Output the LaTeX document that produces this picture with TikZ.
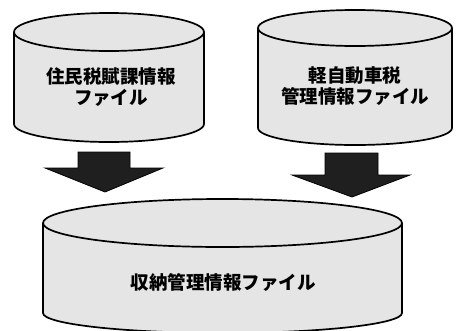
\documentclass[tikz,border=0pt]{standalone}
\usepackage{fontspec}
\newfontfamily\jp{Noto Sans CJK JP}
\tikzset{
  cylfill/.style={fill=black!10},
  cylline/.style={draw=black, line width=1.7pt, line join=round},
  blockarrow/.style={fill=black!88, draw=black, line width=0.8pt, line join=miter},
  lbl/.style={font=\jp\bfseries\fontsize{18.5}{21.5}\selectfont, align=center, text=black}
}
\begin{document}
\begin{tikzpicture}[x=1pt,y=-1pt]
\useasboundingbox (0,0) rectangle (461,330);
\clip (0,0) rectangle (461,330);
% left cylinder: x 14..204
\path[cylfill] (14,32) -- (14,124) arc (180:0:95 and 18) -- (204,32) arc (0:-180:95 and 19) -- cycle;
\draw[cylline] (14,32) -- (14,124) arc (180:0:95 and 18) -- (204,32);
\draw[cylline] (109,32) ellipse (95 and 19);
% right cylinder: x 258..452
\path[cylfill] (258,28) -- (258,128) arc (180:0:97 and 17) -- (452,28) arc (0:-180:97 and 18) -- cycle;
\draw[cylline] (258,28) -- (258,128) arc (180:0:97 and 17) -- (452,28);
\draw[cylline] (355,28) ellipse (97 and 18);
% bottom cylinder: x 43..402
\path[cylfill] (43,223) -- (43,313) arc (180:0:179.5 and 20) -- (402,223) arc (0:-180:179.5 and 24) -- cycle;
\draw[cylline] (43,223) -- (43,313) arc (180:0:179.5 and 20) -- (402,223);
\draw[cylline] (222.5,223) ellipse (179.5 and 24);
% labels
\node[lbl] (a) at (111,87) {住民税賦課情報\\ファイル};
\node[lbl] (b) at (355,86) {軽自動車税\\管理情報ファイル};
\node[lbl] (c) at (223,282) {収納管理情報ファイル};
% block arrows
\path[blockarrow] (78,152) -- (130,152) -- (130,168) -- (163,168) -- (105,192) -- (45,168) -- (78,168) -- cycle;
\path[blockarrow] (325,153) -- (378,153) -- (378,175) -- (410,175) -- (352,197) -- (292,175) -- (325,175) -- cycle;
\end{tikzpicture}
\end{document}
